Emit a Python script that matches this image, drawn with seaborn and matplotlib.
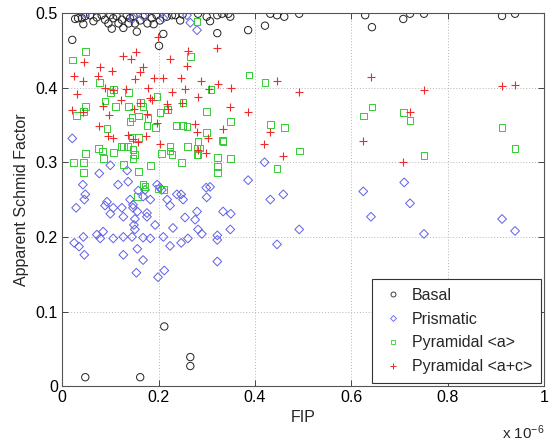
import matplotlib
matplotlib.use("Agg")
import matplotlib.pyplot as plt
import numpy as np
import pandas as pd
import seaborn as sns
from matplotlib.lines import Line2D

# ---------------- data (FIP in units of 1e-6) ----------------
basal_x = [0.021, 0.027, 0.033, 0.041, 0.048, 0.044, 0.058, 0.065, 0.072, 0.082,
           0.089, 0.100, 0.096, 0.106, 0.103, 0.113, 0.117, 0.124, 0.127, 0.134,
           0.138, 0.141, 0.148, 0.151, 0.155, 0.162, 0.172, 0.177, 0.186, 0.190,
           0.196, 0.203, 0.217, 0.228, 0.235, 0.245, 0.250, 0.282, 0.300, 0.307,
           0.322, 0.322, 0.332, 0.349, 0.345, 0.386, 0.421, 0.432, 0.446, 0.461,
           0.492, 0.201, 0.210, 0.629, 0.643, 0.708, 0.722, 0.751, 0.913, 0.940,
           0.048, 0.162, 0.212, 0.266, 0.266]
basal_y = [0.464, 0.492, 0.493, 0.493, 0.496, 0.485, 0.497, 0.489, 0.494, 0.497,
           0.491, 0.497, 0.486, 0.493, 0.479, 0.496, 0.486, 0.491, 0.480, 0.497,
           0.486, 0.493, 0.496, 0.486, 0.475, 0.490, 0.497, 0.486, 0.493, 0.485,
           0.497, 0.490, 0.495, 0.497, 0.497, 0.490, 0.498, 0.499, 0.495, 0.489,
           0.497, 0.473, 0.499, 0.495, 0.499, 0.477, 0.483, 0.499, 0.497, 0.495,
           0.499, 0.456, 0.472, 0.497, 0.481, 0.492, 0.499, 0.499, 0.496, 0.499,
           0.012, 0.012, 0.080, 0.039, 0.027]

prism_x = [0.048, 0.147, 0.168, 0.210, 0.259, 0.266, 0.280,
           0.021, 0.077, 0.100, 0.043, 0.048, 0.046, 0.029, 0.093, 0.089, 0.106,
           0.100, 0.124, 0.127, 0.116, 0.137, 0.135, 0.141, 0.147, 0.147, 0.156,
           0.151, 0.149, 0.151, 0.158, 0.172, 0.168, 0.183, 0.176, 0.176, 0.197,
           0.203, 0.207, 0.193, 0.218, 0.224, 0.238, 0.247, 0.251, 0.230, 0.255,
           0.276, 0.280, 0.300, 0.307, 0.299, 0.282, 0.290, 0.334, 0.350, 0.349,
           0.322, 0.322, 0.322,
           0.025, 0.035, 0.044, 0.046, 0.072, 0.079, 0.085, 0.106, 0.127, 0.145,
           0.168, 0.183, 0.210, 0.224, 0.247, 0.261, 0.127, 0.156, 0.168, 0.154,
           0.199, 0.212,
           0.386, 0.420, 0.432, 0.459, 0.492, 0.446, 0.625, 0.710, 0.722, 0.641,
           0.751, 0.913, 0.940]
prism_y = [0.499, 0.493, 0.496, 0.493, 0.497, 0.487, 0.477,
           0.332, 0.285, 0.296, 0.270, 0.257, 0.250, 0.239, 0.247, 0.242, 0.239,
           0.231, 0.239, 0.227, 0.270, 0.274, 0.289, 0.250, 0.243, 0.239, 0.234,
           0.224, 0.216, 0.210, 0.262, 0.263, 0.254, 0.250, 0.232, 0.227, 0.270,
           0.266, 0.263, 0.216, 0.250, 0.242, 0.257, 0.257, 0.250, 0.212, 0.226,
           0.223, 0.234, 0.253, 0.267, 0.266, 0.210, 0.204, 0.234, 0.231, 0.210,
           0.202, 0.196, 0.167,
           0.192, 0.187, 0.200, 0.176, 0.203, 0.198, 0.207, 0.198, 0.200, 0.200,
           0.199, 0.198, 0.200, 0.188, 0.192, 0.198, 0.176, 0.184, 0.169, 0.152,
           0.146, 0.155,
           0.276, 0.300, 0.250, 0.257, 0.210, 0.190, 0.261, 0.273, 0.245, 0.227,
           0.204, 0.224, 0.208]

pyra_x = [0.021, 0.048, 0.266, 0.077, 0.388, 0.421, 0.309, 0.089, 0.100, 0.106,
          0.137, 0.197, 0.162, 0.168, 0.048, 0.044, 0.029, 0.110, 0.137, 0.145,
          0.141, 0.158, 0.178, 0.203, 0.218, 0.251, 0.300, 0.350, 0.238, 0.249,
          0.176, 0.193, 0.093, 0.300, 0.334, 0.432, 0.461, 0.261, 0.224, 0.145,
          0.158, 0.127, 0.075, 0.124, 0.135, 0.083, 0.048, 0.106, 0.147, 0.151,
          0.207, 0.224, 0.228, 0.280, 0.280, 0.492, 0.023, 0.044, 0.044, 0.085,
          0.127, 0.147, 0.183, 0.247, 0.158, 0.322, 0.322, 0.322, 0.349, 0.446,
          0.168, 0.172, 0.199, 0.210, 0.156, 0.259, 0.282, 0.286, 0.282, 0.332,
          0.643, 0.625, 0.708, 0.722, 0.751, 0.913, 0.940, 0.280]
pyra_y = [0.437, 0.448, 0.442, 0.407, 0.417, 0.407, 0.397, 0.382, 0.394, 0.398,
          0.394, 0.388, 0.380, 0.375, 0.375, 0.368, 0.363, 0.375, 0.375, 0.360,
          0.355, 0.362, 0.359, 0.367, 0.371, 0.380, 0.368, 0.355, 0.349, 0.349,
          0.349, 0.347, 0.345, 0.340, 0.328, 0.351, 0.347, 0.321, 0.321, 0.333,
          0.333, 0.321, 0.318, 0.321, 0.321, 0.315, 0.312, 0.313, 0.317, 0.310,
          0.312, 0.315, 0.310, 0.318, 0.310, 0.315, 0.300, 0.300, 0.286, 0.305,
          0.297, 0.305, 0.296, 0.300, 0.288, 0.306, 0.294, 0.286, 0.305, 0.292,
          0.270, 0.267, 0.265, 0.263, 0.254, 0.348, 0.328, 0.319, 0.310, 0.329,
          0.374, 0.362, 0.367, 0.356, 0.309, 0.347, 0.318, 0.489]

pyrac_x = [0.046, 0.025, 0.044, 0.075, 0.079, 0.104, 0.127, 0.154, 0.143, 0.168,
           0.162, 0.151, 0.191, 0.210, 0.199, 0.224, 0.261, 0.259, 0.247, 0.322,
           0.288, 0.446, 0.492, 0.031, 0.089, 0.106, 0.122, 0.133, 0.178, 0.183,
           0.187, 0.162, 0.149, 0.218, 0.220, 0.228, 0.255, 0.282, 0.305, 0.350,
           0.349, 0.386, 0.249, 0.021, 0.085, 0.098, 0.044, 0.176, 0.197, 0.077,
           0.276, 0.280, 0.334, 0.095, 0.106, 0.137, 0.147, 0.174, 0.203, 0.158,
           0.432, 0.419, 0.303, 0.282, 0.299, 0.459, 0.324,
           0.641, 0.751, 0.722, 0.625, 0.708, 0.913, 0.940]
pyrac_y = [0.434, 0.415, 0.409, 0.415, 0.427, 0.422, 0.442, 0.448, 0.438, 0.427,
           0.421, 0.411, 0.413, 0.413, 0.468, 0.438, 0.449, 0.429, 0.413, 0.453,
           0.409, 0.409, 0.394, 0.391, 0.399, 0.397, 0.384, 0.398, 0.399, 0.386,
           0.384, 0.380, 0.371, 0.378, 0.371, 0.394, 0.398, 0.388, 0.398, 0.399,
           0.374, 0.367, 0.380, 0.370, 0.376, 0.363, 0.367, 0.364, 0.352, 0.348,
           0.351, 0.341, 0.344, 0.335, 0.333, 0.337, 0.331, 0.335, 0.324, 0.327,
           0.341, 0.324, 0.333, 0.317, 0.313, 0.308, 0.405,
           0.414, 0.397, 0.367, 0.328, 0.301, 0.402, 0.403]

labels = ["Basal", "Prismatic", "Pyramidal <a>", "Pyramidal <a+c>"]
x_ticks = [0, 0.2, 0.4, 0.6, 0.8, 1]
y_ticks = [0, 0.1, 0.2, 0.3, 0.4, 0.5]

# ---------------- style ----------------
sns.set_theme(style="white")
plt.rcParams["font.family"] = ["Liberation Sans", "DejaVu Sans"]
plt.rcParams["mathtext.default"] = "regular"

FS = 11.5
c_basal = "#222222"
c_prism = "#6060e6"
c_pyra = "#33cc33"
c_pyrac = "#ee2a2a"

fig = plt.figure(figsize=(5.5, 4.48), dpi=100)
ax = fig.add_axes([0.113, 0.138, 0.876, 0.833])

df_b = pd.DataFrame({"FIP": basal_x, "SF": basal_y})
df_p = pd.DataFrame({"FIP": prism_x, "SF": prism_y})
df_a = pd.DataFrame({"FIP": pyra_x, "SF": pyra_y})
df_c = pd.DataFrame({"FIP": pyrac_x, "SF": pyrac_y})

sns.scatterplot(data=df_b, x="FIP", y="SF", ax=ax, marker="o", s=28,
                facecolor="none", edgecolor=c_basal, linewidth=0.7, color=c_basal)
sns.scatterplot(data=df_p, x="FIP", y="SF", ax=ax, marker="D", s=20,
                facecolor="none", edgecolor=c_prism, linewidth=0.7, color=c_prism)
sns.scatterplot(data=df_a, x="FIP", y="SF", ax=ax, marker="s", s=24,
                facecolor="none", edgecolor=c_pyra, linewidth=0.7, color=c_pyra)
sns.scatterplot(data=df_c, x="FIP", y="SF", ax=ax, marker="+", s=40,
                color=c_pyrac, linewidth=0.8)

ax.set_xlim(0, 1)
ax.set_ylim(0, 0.5)
ax.set_xticks(x_ticks)
ax.set_xticklabels(["0", "0.2", "0.4", "0.6", "0.8", "1"])
ax.set_yticks(y_ticks)
ax.set_yticklabels(["0", "0.1", "0.2", "0.3", "0.4", "0.5"])
ax.grid(True, linestyle=(0, (1, 2)), color="#b5b5b5", linewidth=0.7)
ax.tick_params(direction="in", length=4, width=0.7, labelsize=FS, pad=3,
               top=True, right=True, bottom=True, left=True, colors="#444444",
               labelcolor="black")
for sp in ax.spines.values():
    sp.set_color("#555555")
    sp.set_linewidth(0.8)
ax.set_xlabel("FIP", fontsize=FS, labelpad=3)
ax.set_ylabel("Apparent Schmid Factor", fontsize=FS, labelpad=5)

handles = [
    Line2D([], [], ls="none", marker="o", ms=3.6, mfc="none", mec=c_basal, mew=0.6),
    Line2D([], [], ls="none", marker="D", ms=3.0, mfc="none", mec=c_prism, mew=0.6),
    Line2D([], [], ls="none", marker="s", ms=3.2, mfc="none", mec=c_pyra, mew=0.6),
    Line2D([], [], ls="none", marker="+", ms=4.2, color=c_pyrac, mew=0.7),
]
leg = ax.legend(handles, labels, loc="lower right", fontsize=FS, frameon=True,
                fancybox=False, edgecolor="#333333", framealpha=1,
                borderaxespad=0.2, handletextpad=0.35, labelspacing=0.55,
                borderpad=0.55, handlelength=1.6)
leg.get_frame().set_linewidth(0.8)

fig.text(0.913, 0.014, r"x 10$^{-6}$", fontsize=FS - 0.5, ha="left", va="bottom")

fig.savefig("out.png", dpi=100)
